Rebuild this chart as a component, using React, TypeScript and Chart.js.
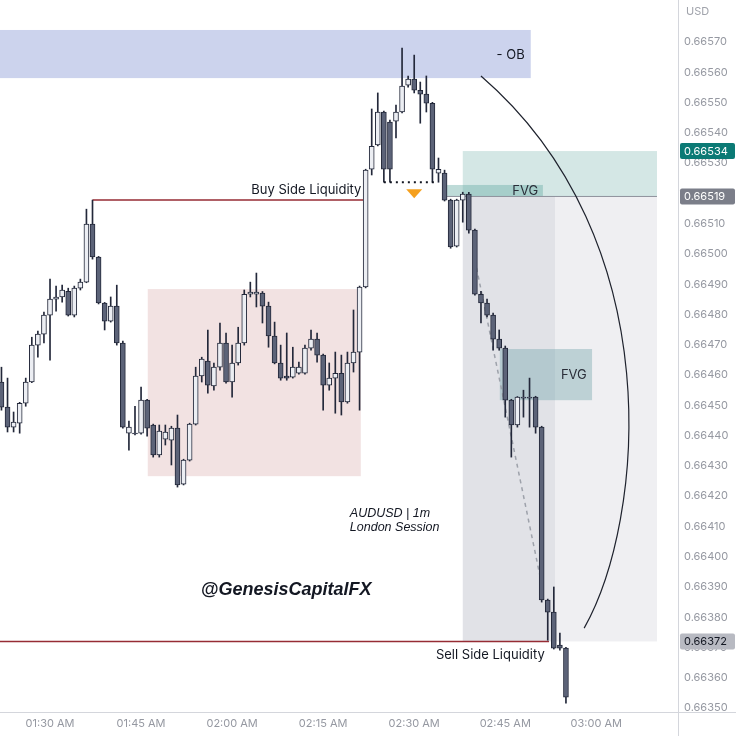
import React, { useEffect, useRef } from "react";
import { Chart, registerables } from "chart.js";

Chart.register(...registerables);

// AUDUSD 1m candles, 01:22 - 02:55
const times = [
  "01:22", "01:23", "01:24", "01:25", "01:26", "01:27", "01:28", "01:29", "01:30", "01:31",
  "01:32", "01:33", "01:34", "01:35", "01:36", "01:37", "01:38", "01:39", "01:40", "01:41",
  "01:42", "01:43", "01:44", "01:45", "01:46", "01:47", "01:48", "01:49", "01:50", "01:51",
  "01:52", "01:53", "01:54", "01:55", "01:56", "01:57", "01:58", "01:59", "02:00", "02:01",
  "02:02", "02:03", "02:04", "02:05", "02:06", "02:07", "02:08", "02:09", "02:10", "02:11",
  "02:12", "02:13", "02:14", "02:15", "02:16", "02:17", "02:18", "02:19", "02:20", "02:21",
  "02:22", "02:23", "02:24", "02:25", "02:26", "02:27", "02:28", "02:29", "02:30", "02:31",
  "02:32", "02:33", "02:34", "02:35", "02:36", "02:37", "02:38", "02:39", "02:40", "02:41",
  "02:42", "02:43", "02:44", "02:45", "02:46", "02:47", "02:48", "02:49", "02:50", "02:51",
  "02:52", "02:53", "02:54", "02:55",
];

const opens = [
  0.664577, 0.664494, 0.664428, 0.664441, 0.664507, 0.664577, 0.664699, 0.664735, 0.664798, 0.664851,
  0.664858, 0.664877, 0.664798, 0.664887, 0.664907, 0.665099, 0.66499, 0.664838, 0.664778, 0.664828,
  0.664706, 0.664408, 0.664408, 0.664408, 0.664517, 0.664435, 0.664336, 0.664388, 0.664385, 0.664425,
  0.66424, 0.664319, 0.664438, 0.664597, 0.664646, 0.664564, 0.664626, 0.664706, 0.664577, 0.66464,
  0.664706, 0.664867, 0.664867, 0.664871, 0.664828, 0.664729, 0.66464, 0.664597, 0.664593, 0.664606,
  0.664606, 0.664689, 0.664719, 0.664666, 0.664567, 0.66459, 0.664606, 0.664511, 0.66464, 0.664676,
  0.664891, 0.66528, 0.66536, 0.665469, 0.665436, 0.665439, 0.665469, 0.665558, 0.665578, 0.665541,
  0.665528, 0.665498, 0.665267, 0.665267, 0.665178, 0.665026, 0.665178, 0.665198, 0.665079, 0.664867,
  0.664838, 0.664798, 0.664719, 0.664689, 0.664517, 0.664435, 0.664527, 0.664527, 0.664527, 0.664428,
  0.663857, 0.663817, 0.663708, 0.663698,
];

const highs = [
  0.664626, 0.66459, 0.664478, 0.66451, 0.66459, 0.664725, 0.664745, 0.664808, 0.664917, 0.664894,
  0.664897, 0.664887, 0.664894, 0.664917, 0.665148, 0.665178, 0.664992, 0.66484, 0.664858, 0.664897,
  0.664712, 0.664448, 0.664497, 0.66456, 0.66452, 0.664438, 0.664435, 0.664435, 0.664431, 0.664468,
  0.664322, 0.664441, 0.664626, 0.664659, 0.664749, 0.66464, 0.664772, 0.664739, 0.664699, 0.664758,
  0.664881, 0.664907, 0.664937, 0.664876, 0.664841, 0.664775, 0.664699, 0.664739, 0.664692, 0.664643,
  0.664699, 0.664749, 0.664739, 0.664669, 0.66464, 0.664676, 0.664666, 0.664676, 0.664815, 0.664894,
  0.66528, 0.665479, 0.665532, 0.665472, 0.665442, 0.665492, 0.66568, 0.665588, 0.665657, 0.665568,
  0.665588, 0.665501, 0.665317, 0.665277, 0.665181, 0.665181, 0.665204, 0.665204, 0.665082, 0.664877,
  0.664851, 0.664805, 0.664749, 0.664696, 0.66452, 0.664529, 0.66455, 0.66459, 0.66453, 0.664431,
  0.66386, 0.6639, 0.663748, 0.663701,
];

const lows = [
  0.664484, 0.664412, 0.664412, 0.664408, 0.664497, 0.664575, 0.664659, 0.664706, 0.664649, 0.664811,
  0.664841, 0.664795, 0.664792, 0.664881, 0.664905, 0.664983, 0.664835, 0.664749, 0.664775, 0.664699,
  0.664425, 0.664352, 0.664402, 0.664405, 0.664398, 0.664329, 0.664329, 0.664369, 0.664303, 0.66423,
  0.664237, 0.664316, 0.664435, 0.664577, 0.66454, 0.66455, 0.664616, 0.664573, 0.664527, 0.664633,
  0.664699, 0.664858, 0.664825, 0.664772, 0.664692, 0.664637, 0.664583, 0.664583, 0.66459, 0.664603,
  0.664603, 0.664682, 0.664643, 0.664484, 0.66455, 0.664474, 0.664468, 0.664507, 0.66461, 0.664484,
  0.664888, 0.665261, 0.665357, 0.665237, 0.665237, 0.665383, 0.665466, 0.665551, 0.665532, 0.665432,
  0.665469, 0.665237, 0.665237, 0.665175, 0.665019, 0.665023, 0.665105, 0.665069, 0.664864, 0.664772,
  0.664792, 0.664682, 0.664682, 0.664461, 0.664329, 0.664428, 0.664461, 0.664428, 0.664408, 0.66385,
  0.663724, 0.663695, 0.663691, 0.663516,
];

const closes = [
  0.664494, 0.664428, 0.664445, 0.664507, 0.664577, 0.664699, 0.664735, 0.664798, 0.664851, 0.664858,
  0.664881, 0.664798, 0.664887, 0.664907, 0.665099, 0.66499, 0.664838, 0.664778, 0.664828, 0.664706,
  0.664428, 0.664428, 0.664406, 0.664517, 0.664425, 0.664336, 0.664415, 0.664412, 0.664425, 0.664237,
  0.664319, 0.664438, 0.664597, 0.664653, 0.664567, 0.664626, 0.664706, 0.664577, 0.66464, 0.664706,
  0.664867, 0.664874, 0.664874, 0.664828, 0.664729, 0.66464, 0.66459, 0.66459, 0.664626, 0.664626,
  0.664689, 0.664719, 0.664666, 0.664567, 0.66459, 0.664606, 0.664511, 0.66464, 0.664676, 0.664891,
  0.665277, 0.665356, 0.665469, 0.66528, 0.66528, 0.665469, 0.665555, 0.665578, 0.665541, 0.665528,
  0.665498, 0.66528, 0.66528, 0.665178, 0.665023, 0.665178, 0.665198, 0.665079, 0.664867, 0.664838,
  0.664798, 0.664719, 0.664689, 0.664517, 0.664435, 0.664527, 0.664524, 0.664524, 0.664428, 0.663857,
  0.663817, 0.663698, 0.663698, 0.663536,
];

const priceTicks = [
  0.6635, 0.6636, 0.6637, 0.6638, 0.6639, 0.664, 0.6641, 0.6642, 0.6643, 0.6644, 0.6645, 0.6646,
  0.6647, 0.6648, 0.6649, 0.665, 0.6651, 0.6652, 0.6653, 0.6654, 0.6655, 0.6656, 0.6657,
];
const timeTicks = ["01:30", "01:45", "02:00", "02:15", "02:30", "02:45", "03:00"];

// price badges on the axis: value, background, text colour
const badges: [number, string, string][] = [
  [0.66534, "#0b7a75", "#ffffff"],
  [0.66519, "#7b7e89", "#ffffff"],
  [0.66372, "#b8bac2", "#131722"],
];

const toMin = (t: string) => {
  const [h, m] = t.split(":").map(Number);
  return h * 60 + m;
};

const UP = "#eceef3";
const DOWN = "#5c6378";
const EDGE = "#23283a";
const FONT = "Inter, 'Liberation Sans', sans-serif";

const drawings = {
  id: "drawings",
  beforeDatasetsDraw(chart: any) {
    const { ctx, chartArea, scales } = chart;
    const X = (v: number) => scales.x.getPixelForValue(v);
    const Y = (v: number) => scales.y.getPixelForValue(v);
    const box = (x0: number, x1: number, p0: number, p1: number, c: string) => {
      ctx.fillStyle = c;
      ctx.fillRect(x0, Y(p0), x1 - x0, Y(p1) - Y(p0));
    };
    ctx.save();
    // order block
    box(chartArea.left, X(169.2), 0.66574, 0.665581, "#ccd3ed");
    // range box
    box(X(106.1), X(141.2), 0.664884, 0.664266, "#f2e2e2");
    // target / stop boxes
    box(X(158), X(190), 0.66534, 0.66519, "#d4e7e5");
    box(X(158), X(173.2), 0.66519, 0.66372, "#e1e2e7");
    box(X(173.2), X(190), 0.66519, 0.66372, "#efeff2");
    // fair value gaps
    box(X(155.4), X(171.2), 0.665228, 0.66519, "rgba(110,175,168,0.45)");
    box(X(164.1), X(179.3), 0.664686, 0.664517, "rgba(120,168,175,0.42)");
    // entry line
    ctx.strokeStyle = "#8f929c";
    ctx.lineWidth = 1;
    ctx.beginPath();
    ctx.moveTo(X(155.4), Y(0.66519));
    ctx.lineTo(X(190), Y(0.66519));
    ctx.stroke();
    // path of price
    ctx.strokeStyle = "#9ea2ab";
    ctx.lineWidth = 1.5;
    ctx.setLineDash([4, 4]);
    ctx.beginPath();
    ctx.moveTo(X(160), Y(0.66498));
    ctx.lineTo(X(171.2), Y(0.66389));
    ctx.stroke();
    ctx.setLineDash([]);
    // liquidity lines
    ctx.strokeStyle = "#962c34";
    ctx.lineWidth = 1.5;
    ctx.beginPath();
    ctx.moveTo(X(97), Y(0.665178));
    ctx.lineTo(X(141.9), Y(0.665178));
    ctx.moveTo(chartArea.left, Y(0.66372));
    ctx.lineTo(X(172.2), Y(0.66372));
    ctx.stroke();
    ctx.restore();
  },
  afterDatasetsDraw(chart: any) {
    const { ctx, scales } = chart;
    const X = (v: number) => scales.x.getPixelForValue(v);
    const Y = (v: number) => scales.y.getPixelForValue(v);
    ctx.save();
    // equal lows dotted line
    ctx.strokeStyle = "#131722";
    ctx.lineWidth = 2;
    ctx.setLineDash([2, 4]);
    ctx.beginPath();
    ctx.moveTo(X(145), Y(0.665237));
    ctx.lineTo(X(153.8), Y(0.665237));
    ctx.stroke();
    ctx.setLineDash([]);
    // orange marker
    const tx = X(150);
    const ty = Y(0.665201);
    ctx.fillStyle = "#f5a01e";
    ctx.beginPath();
    ctx.moveTo(tx - 8, ty - 4);
    ctx.lineTo(tx + 8, ty - 4);
    ctx.lineTo(tx, ty + 5);
    ctx.closePath();
    ctx.fill();
    // arc
    ctx.strokeStyle = "#1e222d";
    ctx.lineWidth = 1.2;
    ctx.beginPath();
    ctx.moveTo(X(161), Y(0.665588));
    ctx.bezierCurveTo(X(192.3), Y(0.665046), X(188), Y(0.664121), X(178), Y(0.663764));
    ctx.stroke();

    // labels
    ctx.fillStyle = "#131722";
    ctx.textBaseline = "middle";
    ctx.font = `13px ${FONT}`;
    ctx.textAlign = "right";
    ctx.fillText("- OB", X(168.2), Y(0.665657));
    ctx.fillText("Buy Side Liquidity", X(141.3), Y(0.665178) - 10);
    ctx.fillText("Sell Side Liquidity", X(171.5), Y(0.66372) + 14);
    ctx.textAlign = "center";
    ctx.fillStyle = "#2a2e39";
    ctx.fillText("FVG", X(168.3), Y(0.665209));
    ctx.fillText("FVG", X(176.3), Y(0.6646));
    ctx.fillStyle = "#131722";
    ctx.textAlign = "left";
    ctx.font = `italic 12.5px 'Liberation Sans', sans-serif`;
    ctx.fillText("AUDUSD | 1m", X(139.4), Y(0.664144));
    ctx.fillText("London Session", X(139.4), Y(0.664098));
    ctx.textAlign = "center";
    ctx.font = `italic bold 18px 'Liberation Sans', sans-serif`;
    ctx.fillText("@GenesisCapitalFX", X(128.9), Y(0.66389));
    ctx.restore();
  },
  afterDraw(chart: any) {
    const { ctx, chartArea, scales, width, height } = chart;
    const Y = (v: number) => scales.y.getPixelForValue(v);
    ctx.save();
    ctx.strokeStyle = "#d4d6dc";
    ctx.lineWidth = 1;
    ctx.beginPath();
    ctx.moveTo(Math.round(chartArea.right) + 0.5, 0);
    ctx.lineTo(Math.round(chartArea.right) + 0.5, height);
    ctx.moveTo(0, Math.round(chartArea.bottom) + 0.5);
    ctx.lineTo(width, Math.round(chartArea.bottom) + 0.5);
    ctx.stroke();
    ctx.font = `11px ${FONT}`;
    ctx.textBaseline = "middle";
    ctx.textAlign = "left";
    ctx.fillStyle = "#a0a3ab";
    ctx.fillText("USD", chartArea.right + 8, 12);
    badges.forEach(([v, bg, fg]) => {
      const y = Y(v);
      ctx.fillStyle = bg;
      ctx.beginPath();
      ctx.roundRect(chartArea.right + 2, y - 8, 55, 16, 2);
      ctx.fill();
      ctx.fillStyle = fg;
      ctx.fillText(v.toFixed(5), chartArea.right + 6, y + 0.5);
    });
    ctx.restore();
  },
};

const CandleChart: React.FC = () => {
  const canvasRef = useRef<HTMLCanvasElement | null>(null);

  useEffect(() => {
    if (!canvasRef.current) return;
    const xs = times.map(toMin);
    const chart = new Chart(canvasRef.current, {
      type: "bar",
      data: {
        datasets: [
          {
            label: "body",
            data: xs.map((x, i) => ({ x, y: [opens[i], closes[i]] })) as any,
            backgroundColor: closes.map((c, i) => (c > opens[i] ? UP : DOWN)),
            borderColor: EDGE,
            borderWidth: 1,
            borderSkipped: false,
            barThickness: 5,
            grouped: false,
            order: 0,
          },
          {
            label: "wick",
            data: xs.map((x, i) => ({ x, y: [lows[i], highs[i]] })) as any,
            backgroundColor: EDGE,
            borderWidth: 0,
            barThickness: 1,
            grouped: false,
            order: 1,
          },
        ],
      },
      options: {
        responsive: true,
        maintainAspectRatio: false,
        animation: false,
        layout: { padding: 0 },
        plugins: { legend: { display: false }, tooltip: { enabled: false } },
        scales: {
          x: {
            type: "linear",
            min: 81.76,
            max: 193.46,
            offset: false,
            grid: { display: false, drawTicks: false },
            border: { display: false },
            ticks: {
              autoSkip: false,
              maxRotation: 0,
              padding: 5,
              color: "#9598a1",
              font: { size: 11, family: FONT },
              callback: (v: any) => {
                const m = Number(v);
                const hh = String(Math.floor(m / 60)).padStart(2, "0");
                const mm = String(m % 60).padStart(2, "0");
                return `${hh}:${mm} AM`;
              },
            },
            afterBuildTicks: (s: any) => {
              s.ticks = timeTicks.map((t) => ({ value: toMin(t) }));
            },
            afterFit: (s: any) => {
              s.height = 24;
              s.paddingLeft = 0;
              s.paddingRight = 0;
            },
          },
          y: {
            position: "right",
            min: 0.663487,
            max: 0.665839,
            grid: { display: false, drawTicks: false },
            border: { display: false },
            ticks: {
              padding: 6,
              color: "#9598a1",
              font: { size: 11, family: FONT },
              callback: (v: any) => Number(v).toFixed(5),
            },
            afterBuildTicks: (s: any) => {
              s.ticks = priceTicks.map((v) => ({ value: v }));
            },
            afterFit: (s: any) => {
              s.width = 58;
              s.paddingTop = 0;
              s.paddingBottom = 0;
            },
          },
        },
      } as any,
      plugins: [drawings],
    });
    return () => chart.destroy();
  }, []);

  return (
    <div style={{ position: "fixed", left: 0, top: 0, width: 736, height: 736, background: "#fff" }}>
      <canvas ref={canvasRef}></canvas>
    </div>
  );
};

export default function App() {
  return <CandleChart />;
}
